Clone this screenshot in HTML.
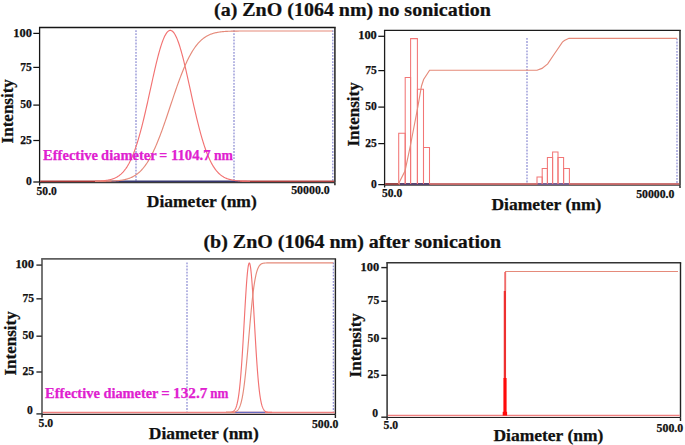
<!DOCTYPE html>
<html><head><meta charset="utf-8"><style>
html,body{margin:0;padding:0;background:#fff;}
body{width:685px;height:445px;overflow:hidden;}
svg{display:block;font-family:"Liberation Serif", serif;font-weight:bold;}
text{stroke-width:0.25px;}
</style></head><body>
<svg width="685" height="445" viewBox="0 0 685 445">
<rect width="685" height="445" fill="#fff"/>
<text transform="translate(214,15.9) scale(1,0.945)" font-size="20" fill="#111" stroke="#111">(a) ZnO (1064 nm) no sonication</text>
<text transform="translate(203.4,247.6) scale(1,0.945)" font-size="20" fill="#111" stroke="#111">(b) ZnO (1064 nm) after sonication</text>
<line x1="38.95" y1="27.5" x2="335.7" y2="27.5" stroke="#161616" stroke-width="1.3" />
<line x1="39.6" y1="27.5" x2="39.6" y2="182.6" stroke="#161616" stroke-width="1.3" />
<line x1="334.9" y1="27.5" x2="334.9" y2="182.6" stroke="#2e2e2e" stroke-width="1.6" />
<line x1="39.6" y1="182.6" x2="334.9" y2="182.6" stroke="#3a3a3a" stroke-width="1.1" />
<line x1="39.6" y1="182.6" x2="39.6" y2="185.6" stroke="#161616" stroke-width="1.3" />
<line x1="334.9" y1="182.6" x2="334.9" y2="185.2" stroke="#2e2e2e" stroke-width="1.6" />
<line x1="33.300000000000004" y1="33.4" x2="39.6" y2="33.4" stroke="#111" stroke-width="1.25" />
<text x="31.9" y="36.5" font-size="11.6" text-anchor="end" fill="#111" stroke="#111" textLength="18.6" lengthAdjust="spacingAndGlyphs">100</text>
<line x1="33.300000000000004" y1="67.4" x2="39.6" y2="67.4" stroke="#111" stroke-width="1.25" />
<text x="31.9" y="70.5" font-size="11.6" text-anchor="end" fill="#111" stroke="#111" >75</text>
<line x1="33.300000000000004" y1="105.1" x2="39.6" y2="105.1" stroke="#111" stroke-width="1.25" />
<text x="31.9" y="108.2" font-size="11.6" text-anchor="end" fill="#111" stroke="#111" >50</text>
<line x1="33.300000000000004" y1="140.5" x2="39.6" y2="140.5" stroke="#111" stroke-width="1.25" />
<text x="31.9" y="143.6" font-size="11.6" text-anchor="end" fill="#111" stroke="#111" >25</text>
<line x1="33.300000000000004" y1="182.0" x2="39.6" y2="182.0" stroke="#111" stroke-width="1.25" />
<text x="31.9" y="185.1" font-size="11.6" text-anchor="end" fill="#111" stroke="#111" >0</text>
<line x1="136" y1="30.2" x2="136" y2="181.3" stroke="#9494d6" stroke-width="1.35" stroke-dasharray="1.8 1.3"/>
<line x1="234" y1="30.2" x2="234" y2="181.3" stroke="#9494d6" stroke-width="1.35" stroke-dasharray="1.8 1.3"/>
<line x1="332.8" y1="30.2" x2="332.8" y2="181.3" stroke="#9494d6" stroke-width="1.35" stroke-dasharray="1.8 1.3"/>
<line x1="40.2" y1="181.3" x2="100" y2="181.3" stroke="#a83434" stroke-width="1.5" />
<line x1="100" y1="181.3" x2="106" y2="181.3" stroke="#cc4040" stroke-width="1.5" />
<line x1="106" y1="181.3" x2="112" y2="181.3" stroke="#703048" stroke-width="1.5" />
<line x1="112" y1="181.3" x2="240" y2="181.3" stroke="#363670" stroke-width="1.5" />
<line x1="240" y1="181.3" x2="334.09999999999997" y2="181.3" stroke="#b04040" stroke-width="1.5" />
<path d="M95.00,181.17 L95.50,181.16 L96.00,181.15 L96.50,181.13 L97.00,181.12 L97.50,181.10 L98.00,181.08 L98.50,181.06 L99.00,181.04 L99.50,181.01 L100.00,180.99 L100.50,180.96 L101.00,180.93 L101.50,180.89 L102.00,180.86 L102.50,180.82 L103.00,180.78 L103.50,180.73 L104.00,180.68 L104.50,180.63 L105.00,180.57 L105.50,180.51 L106.00,180.44 L106.50,180.37 L107.00,180.29 L107.50,180.21 L108.00,180.12 L108.50,180.03 L109.00,179.92 L109.50,179.81 L110.00,179.70 L110.50,179.57 L111.00,179.44 L111.50,179.30 L112.00,179.14 L112.50,178.98 L113.00,178.81 L113.50,178.63 L114.00,178.43 L114.50,178.22 L115.00,178.00 L115.50,177.76 L116.00,177.52 L116.50,177.25 L117.00,176.97 L117.50,176.67 L118.00,176.36 L118.50,176.03 L119.00,175.68 L119.50,175.31 L120.00,174.91 L120.50,174.50 L121.00,174.07 L121.50,173.61 L122.00,173.13 L122.50,172.62 L123.00,172.09 L123.50,171.53 L124.00,170.95 L124.50,170.34 L125.00,169.69 L125.50,169.02 L126.00,168.32 L126.50,167.58 L127.00,166.82 L127.50,166.02 L128.00,165.18 L128.50,164.31 L129.00,163.41 L129.50,162.46 L130.00,161.48 L130.50,160.47 L131.00,159.41 L131.50,158.32 L132.00,157.18 L132.50,156.01 L133.00,154.79 L133.50,153.53 L134.00,152.24 L134.50,150.90 L135.00,149.51 L135.50,148.09 L136.00,146.63 L136.50,145.12 L137.00,143.57 L137.50,141.98 L138.00,140.34 L138.50,138.67 L139.00,136.95 L139.50,135.20 L140.00,133.41 L140.50,131.57 L141.00,129.70 L141.50,127.79 L142.00,125.85 L142.50,123.87 L143.00,121.86 L143.50,119.81 L144.00,117.74 L144.50,115.63 L145.00,113.50 L145.50,111.35 L146.00,109.17 L146.50,106.97 L147.00,104.75 L147.50,102.51 L148.00,100.25 L148.50,97.99 L149.00,95.72 L149.50,93.43 L150.00,91.15 L150.50,88.86 L151.00,86.57 L151.50,84.29 L152.00,82.01 L152.50,79.75 L153.00,77.50 L153.50,75.26 L154.00,73.04 L154.50,70.85 L155.00,68.68 L155.50,66.54 L156.00,64.44 L156.50,62.37 L157.00,60.33 L157.50,58.35 L158.00,56.40 L158.50,54.51 L159.00,52.66 L159.50,50.87 L160.00,49.14 L160.50,47.47 L161.00,45.86 L161.50,44.32 L162.00,42.85 L162.50,41.45 L163.00,40.12 L163.50,38.87 L164.00,37.70 L164.50,36.61 L165.00,35.61 L165.50,34.68 L166.00,33.85 L166.50,33.10 L167.00,32.44 L167.50,31.87 L168.00,31.39 L168.50,31.01 L169.00,30.72 L169.50,30.52 L170.00,30.42 L170.50,30.41 L171.00,30.49 L171.50,30.67 L172.00,30.94 L172.50,31.31 L173.00,31.77 L173.50,32.32 L174.00,32.96 L174.50,33.69 L175.00,34.51 L175.50,35.42 L176.00,36.41 L176.50,37.48 L177.00,38.63 L177.50,39.87 L178.00,41.18 L178.50,42.56 L179.00,44.02 L179.50,45.55 L180.00,47.14 L180.50,48.80 L181.00,50.52 L181.50,52.30 L182.00,54.13 L182.50,56.02 L183.00,57.95 L183.50,59.93 L184.00,61.96 L184.50,64.02 L185.00,66.12 L185.50,68.25 L186.00,70.41 L186.50,72.60 L187.00,74.81 L187.50,77.05 L188.00,79.30 L188.50,81.56 L189.00,83.83 L189.50,86.12 L190.00,88.40 L190.50,90.69 L191.00,92.98 L191.50,95.26 L192.00,97.54 L192.50,99.80 L193.00,102.06 L193.50,104.30 L194.00,106.52 L194.50,108.73 L195.00,110.91 L195.50,113.07 L196.00,115.21 L196.50,117.32 L197.00,119.40 L197.50,121.45 L198.00,123.47 L198.50,125.46 L199.00,127.41 L199.50,129.32 L200.00,131.20 L200.50,133.04 L201.00,134.84 L201.50,136.61 L202.00,138.33 L202.50,140.01 L203.00,141.65 L203.50,143.25 L204.00,144.81 L204.50,146.33 L205.00,147.80 L205.50,149.23 L206.00,150.62 L206.50,151.97 L207.00,153.28 L207.50,154.54 L208.00,155.77 L208.50,156.95 L209.00,158.09 L209.50,159.19 L210.00,160.26 L210.50,161.28 L211.00,162.27 L211.50,163.22 L212.00,164.13 L212.50,165.01 L213.00,165.85 L213.50,166.66 L214.00,167.43 L214.50,168.17 L215.00,168.88 L215.50,169.56 L216.00,170.21 L216.50,170.83 L217.00,171.42 L217.50,171.98 L218.00,172.52 L218.50,173.03 L219.00,173.52 L219.50,173.98 L220.00,174.42 L220.50,174.83 L221.00,175.23 L221.50,175.60 L222.00,175.96 L222.50,176.29 L223.00,176.61 L223.50,176.91 L224.00,177.20 L224.50,177.46 L225.00,177.72 L225.50,177.95 L226.00,178.18 L226.50,178.39 L227.00,178.59 L227.50,178.77 L228.00,178.95 L228.50,179.11 L229.00,179.27 L229.50,179.41 L230.00,179.55 L230.50,179.67 L231.00,179.79 L231.50,179.90 L232.00,180.01 L232.50,180.10 L233.00,180.19 L233.50,180.28 L234.00,180.35 L234.50,180.43 L235.00,180.49 L235.50,180.56 L236.00,180.62 L236.50,180.67 L237.00,180.72 L237.50,180.77 L238.00,180.81 L238.50,180.85 L239.00,180.89 L239.50,180.92 L240.00,180.95 L240.50,180.98 L241.00,181.01 L241.50,181.03 L242.00,181.06 L242.50,181.08 L243.00,181.10 L243.50,181.11 L244.00,181.13 L244.50,181.15 L245.00,181.16 L245.50,181.17 L246.00,181.18 L246.50,181.19 L247.00,181.20 L247.50,181.21 L248.00,181.22 L248.50,181.23 L249.00,181.23 L249.50,181.24 L250.00,181.25" fill="none" stroke="#f27272" stroke-width="1.15"/>
<path d="M95.00,181.29 L95.50,181.29 L96.00,181.28 L96.50,181.28 L97.00,181.28 L97.50,181.28 L98.00,181.28 L98.50,181.28 L99.00,181.27 L99.50,181.27 L100.00,181.27 L100.50,181.26 L101.00,181.26 L101.50,181.26 L102.00,181.25 L102.50,181.25 L103.00,181.24 L103.50,181.24 L104.00,181.23 L104.50,181.22 L105.00,181.22 L105.50,181.21 L106.00,181.20 L106.50,181.19 L107.00,181.18 L107.50,181.17 L108.00,181.16 L108.50,181.15 L109.00,181.14 L109.50,181.12 L110.00,181.11 L110.50,181.09 L111.00,181.07 L111.50,181.05 L112.00,181.03 L112.50,181.01 L113.00,180.99 L113.50,180.96 L114.00,180.93 L114.50,180.90 L115.00,180.87 L115.50,180.84 L116.00,180.80 L116.50,180.76 L117.00,180.72 L117.50,180.68 L118.00,180.63 L118.50,180.58 L119.00,180.52 L119.50,180.47 L120.00,180.41 L120.50,180.34 L121.00,180.27 L121.50,180.20 L122.00,180.12 L122.50,180.03 L123.00,179.95 L123.50,179.85 L124.00,179.75 L124.50,179.65 L125.00,179.53 L125.50,179.41 L126.00,179.29 L126.50,179.16 L127.00,179.02 L127.50,178.87 L128.00,178.71 L128.50,178.55 L129.00,178.37 L129.50,178.19 L130.00,178.00 L130.50,177.80 L131.00,177.59 L131.50,177.36 L132.00,177.13 L132.50,176.88 L133.00,176.63 L133.50,176.36 L134.00,176.08 L134.50,175.78 L135.00,175.47 L135.50,175.15 L136.00,174.81 L136.50,174.46 L137.00,174.09 L137.50,173.71 L138.00,173.31 L138.50,172.90 L139.00,172.46 L139.50,172.01 L140.00,171.55 L140.50,171.06 L141.00,170.56 L141.50,170.04 L142.00,169.50 L142.50,168.94 L143.00,168.36 L143.50,167.75 L144.00,167.13 L144.50,166.49 L145.00,165.83 L145.50,165.14 L146.00,164.44 L146.50,163.71 L147.00,162.96 L147.50,162.19 L148.00,161.40 L148.50,160.58 L149.00,159.74 L149.50,158.88 L150.00,158.00 L150.50,157.09 L151.00,156.16 L151.50,155.21 L152.00,154.23 L152.50,153.23 L153.00,152.21 L153.50,151.17 L154.00,150.11 L154.50,149.02 L155.00,147.91 L155.50,146.78 L156.00,145.63 L156.50,144.46 L157.00,143.27 L157.50,142.06 L158.00,140.83 L158.50,139.58 L159.00,138.31 L159.50,137.02 L160.00,135.72 L160.50,134.40 L161.00,133.06 L161.50,131.71 L162.00,130.34 L162.50,128.96 L163.00,127.56 L163.50,126.15 L164.00,124.73 L164.50,123.30 L165.00,121.86 L165.50,120.40 L166.00,118.94 L166.50,117.47 L167.00,116.00 L167.50,114.52 L168.00,113.03 L168.50,111.54 L169.00,110.04 L169.50,108.55 L170.00,107.05 L170.50,105.55 L171.00,104.05 L171.50,102.55 L172.00,101.06 L172.50,99.57 L173.00,98.08 L173.50,96.60 L174.00,95.12 L174.50,93.65 L175.00,92.19 L175.50,90.73 L176.00,89.29 L176.50,87.86 L177.00,86.43 L177.50,85.02 L178.00,83.62 L178.50,82.24 L179.00,80.87 L179.50,79.51 L180.00,78.17 L180.50,76.85 L181.00,75.54 L181.50,74.25 L182.00,72.97 L182.50,71.72 L183.00,70.49 L183.50,69.27 L184.00,68.07 L184.50,66.90 L185.00,65.74 L185.50,64.61 L186.00,63.50 L186.50,62.41 L187.00,61.34 L187.50,60.29 L188.00,59.27 L188.50,58.27 L189.00,57.29 L189.50,56.33 L190.00,55.40 L190.50,54.48 L191.00,53.60 L191.50,52.73 L192.00,51.89 L192.50,51.06 L193.00,50.27 L193.50,49.49 L194.00,48.74 L194.50,48.00 L195.00,47.29 L195.50,46.61 L196.00,45.94 L196.50,45.29 L197.00,44.67 L197.50,44.06 L198.00,43.48 L198.50,42.91 L199.00,42.37 L199.50,41.84 L200.00,41.34 L200.50,40.85 L201.00,40.38 L201.50,39.92 L202.00,39.49 L202.50,39.07 L203.00,38.67 L203.50,38.28 L204.00,37.91 L204.50,37.56 L205.00,37.22 L205.50,36.89 L206.00,36.58 L206.50,36.28 L207.00,36.00 L207.50,35.73 L208.00,35.47 L208.50,35.22 L209.00,34.98 L209.50,34.76 L210.00,34.54 L210.50,34.34 L211.00,34.15 L211.50,33.96 L212.00,33.79 L212.50,33.62 L213.00,33.46 L213.50,33.31 L214.00,33.17 L214.50,33.04 L215.00,32.91 L215.50,32.79 L216.00,32.68 L216.50,32.57 L217.00,32.47 L217.50,32.37 L218.00,32.28 L218.50,32.20 L219.00,32.12 L219.50,32.04 L220.00,31.97 L220.50,31.91 L221.00,31.85 L221.50,31.79 L222.00,31.73 L222.50,31.68 L223.00,31.63 L223.50,31.59 L224.00,31.55 L224.50,31.51 L225.00,31.47 L225.50,31.43 L226.00,31.40 L226.50,31.37 L227.00,31.34 L227.50,31.32 L228.00,31.29 L228.50,31.27 L229.00,31.25 L229.50,31.23 L230.00,31.21 L230.50,31.20 L231.00,31.18 L231.50,31.17 L232.00,31.15 L232.50,31.14 L233.00,31.13 L233.50,31.12 L234.00,31.11 L234.50,31.10 L235.00,31.09 L235.50,31.08 L236.00,31.08 L236.50,31.07 L237.00,31.06 L237.50,31.06 L238.00,31.05 L238.50,31.05 L239.00,31.04 L239.50,31.04 L240.00,31.04 L240.50,31.03 L241.00,31.03 L241.50,31.03 L242.00,31.03 L242.50,31.02 L243.00,31.02 L243.50,31.02 L244.00,31.02 L244.50,31.02 L245.00,31.01 L245.50,31.01 L246.00,31.01 L246.50,31.01 L247.00,31.01 L247.50,31.01 L248.00,31.01 L248.50,31.01 L249.00,31.01 L249.50,31.01 L250.00,31.01 L250.50,31.00 L251.00,31.00 L251.50,31.00 L252.00,31.00 L252.50,31.00 L253.00,31.00 L253.50,31.00 L254.00,31.00 L254.50,31.00 L255.00,31.00 L255.50,31.00 L256.00,31.00 L256.50,31.00 L257.00,31.00 L257.50,31.00 L258.00,31.00 L258.50,31.00 L259.00,31.00 L259.50,31.00 L260.00,31.00 L260.50,31.00 L261.00,31.00 L261.50,31.00 L262.00,31.00 L262.50,31.00 L263.00,31.00 L263.50,31.00 L264.00,31.00 L264.50,31.00 L265.00,31.00 L265.50,31.00 L266.00,31.00 L266.50,31.00 L267.00,31.00 L267.50,31.00 L268.00,31.00 L268.50,31.00 L269.00,31.00 L269.50,31.00 L270.00,31.00 L270.50,31.00 L271.00,31.00 L271.50,31.00 L272.00,31.00 L272.50,31.00 L273.00,31.00 L273.50,31.00 L274.00,31.00 L274.50,31.00 L275.00,31.00 L275.50,31.00 L276.00,31.00 L276.50,31.00 L277.00,31.00 L277.50,31.00 L278.00,31.00 L278.50,31.00 L279.00,31.00 L279.50,31.00 L280.00,31.00 L280.50,31.00 L281.00,31.00 L281.50,31.00 L282.00,31.00 L282.50,31.00 L283.00,31.00 L283.50,31.00 L284.00,31.00 L284.50,31.00 L285.00,31.00 L285.50,31.00 L286.00,31.00 L286.50,31.00 L287.00,31.00 L287.50,31.00 L288.00,31.00 L288.50,31.00 L289.00,31.00 L289.50,31.00 L290.00,31.00 L290.50,31.00 L291.00,31.00 L291.50,31.00 L292.00,31.00 L292.50,31.00 L293.00,31.00 L293.50,31.00 L294.00,31.00 L294.50,31.00 L295.00,31.00 L295.50,31.00 L296.00,31.00 L296.50,31.00 L297.00,31.00 L297.50,31.00 L298.00,31.00 L298.50,31.00 L299.00,31.00 L299.50,31.00 L300.00,31.00 L300.50,31.00 L301.00,31.00 L301.50,31.00 L302.00,31.00 L302.50,31.00 L303.00,31.00 L303.50,31.00 L304.00,31.00 L304.50,31.00 L305.00,31.00 L305.50,31.00 L306.00,31.00 L306.50,31.00 L307.00,31.00 L307.50,31.00 L308.00,31.00 L308.50,31.00 L309.00,31.00 L309.50,31.00 L310.00,31.00 L310.50,31.00 L311.00,31.00 L311.50,31.00 L312.00,31.00 L312.50,31.00 L313.00,31.00 L313.50,31.00 L314.00,31.00 L314.50,31.00 L315.00,31.00 L315.50,31.00 L316.00,31.00 L316.50,31.00 L317.00,31.00 L317.50,31.00 L318.00,31.00 L318.50,31.00 L319.00,31.00 L319.50,31.00 L320.00,31.00 L320.50,31.00 L321.00,31.00 L321.50,31.00 L322.00,31.00 L322.50,31.00 L323.00,31.00 L323.50,31.00 L324.00,31.00 L324.50,31.00 L325.00,31.00 L325.50,31.00 L326.00,31.00 L326.50,31.00 L327.00,31.00 L327.50,31.00 L328.00,31.00 L328.50,31.00 L329.00,31.00 L329.50,31.00 L330.00,31.00 L330.50,31.00 L331.00,31.00 L331.50,31.00 L332.00,31.00 L332.50,31.00" fill="none" stroke="#e58a7a" stroke-width="1.15"/>
<text x="36.6" y="195.4" font-size="11.6" text-anchor="start" fill="#111" stroke="#111" textLength="20.2" lengthAdjust="spacingAndGlyphs">50.0</text>
<text x="291.2" y="194.3" font-size="11.6" text-anchor="start" fill="#111" stroke="#111" textLength="38.6" lengthAdjust="spacingAndGlyphs">50000.0</text>
<text x="146.8" y="206.8" font-size="17.5" text-anchor="start" fill="#111" stroke="#111" >Diameter (nm)</text>
<text transform="translate(13.2,143.4) rotate(-90)" font-size="17" fill="#111" stroke="#111">Intensity</text>
<text x="43.10" y="160.4" font-size="15" fill="#e020d0" stroke="#e020d0" textLength="54.80" lengthAdjust="spacingAndGlyphs">Effective</text>
<text x="101.10" y="160.4" font-size="15" fill="#e020d0" stroke="#e020d0" textLength="55.60" lengthAdjust="spacingAndGlyphs">diameter</text>
<text x="159.20" y="160.4" font-size="15" fill="#e020d0" stroke="#e020d0" textLength="8.00" lengthAdjust="spacingAndGlyphs">=</text>
<text x="170.90" y="160.4" font-size="15" fill="#e020d0" stroke="#e020d0" textLength="39.80" lengthAdjust="spacingAndGlyphs">1104.7</text>
<text x="213.90" y="160.4" font-size="15" fill="#e020d0" stroke="#e020d0" textLength="19.00" lengthAdjust="spacingAndGlyphs">nm</text>
<line x1="383.95000000000005" y1="30.3" x2="680.75" y2="30.3" stroke="#1c1c1c" stroke-width="1.3" />
<line x1="384.6" y1="30.3" x2="384.6" y2="185.2" stroke="#1c1c1c" stroke-width="1.3" />
<line x1="680.0" y1="30.3" x2="680.0" y2="185.2" stroke="#2a2a2a" stroke-width="1.5" />
<line x1="384.6" y1="185.2" x2="680.0" y2="185.2" stroke="#3a3a3a" stroke-width="1.1" />
<line x1="384.6" y1="185.2" x2="384.6" y2="187.5" stroke="#1c1c1c" stroke-width="1.3" />
<line x1="680.0" y1="185.2" x2="680.0" y2="188" stroke="#2a2a2a" stroke-width="1.5" />
<line x1="378.3" y1="36.3" x2="384.6" y2="36.3" stroke="#111" stroke-width="1.25" />
<text x="376.8" y="39.4" font-size="11.6" text-anchor="end" fill="#111" stroke="#111" textLength="18.6" lengthAdjust="spacingAndGlyphs">100</text>
<line x1="378.3" y1="70.6" x2="384.6" y2="70.6" stroke="#111" stroke-width="1.25" />
<text x="376.8" y="73.7" font-size="11.6" text-anchor="end" fill="#111" stroke="#111" >75</text>
<line x1="378.3" y1="107.1" x2="384.6" y2="107.1" stroke="#111" stroke-width="1.25" />
<text x="376.8" y="110.2" font-size="11.6" text-anchor="end" fill="#111" stroke="#111" >50</text>
<line x1="378.3" y1="143.6" x2="384.6" y2="143.6" stroke="#111" stroke-width="1.25" />
<text x="376.8" y="146.7" font-size="11.6" text-anchor="end" fill="#111" stroke="#111" >25</text>
<line x1="378.3" y1="184.6" x2="384.6" y2="184.6" stroke="#111" stroke-width="1.25" />
<text x="376.8" y="187.7" font-size="11.6" text-anchor="end" fill="#111" stroke="#111" >0</text>
<line x1="527" y1="38" x2="527" y2="183.5" stroke="#9494d6" stroke-width="1.35" stroke-dasharray="1.8 1.3"/>
<line x1="677" y1="38.5" x2="677" y2="183.5" stroke="#9494d6" stroke-width="1.35" stroke-dasharray="1.8 1.3"/>
<line x1="385.20000000000005" y1="184.0" x2="679.3" y2="184.0" stroke="#bb4646" stroke-width="1.5" />
<line x1="385.20000000000005" y1="184.0" x2="399" y2="184.0" stroke="#8a3838" stroke-width="1.5" />
<line x1="400" y1="184.0" x2="429.5" y2="184.0" stroke="#363670" stroke-width="1.5" />
<line x1="537.5" y1="184.0" x2="569" y2="184.0" stroke="#5a5aa0" stroke-width="1.4" />
<path d="M398.7,184.0 L398.7,133.2 L405.2,133.2 L405.2,184.0" fill="none" stroke="#f27676" stroke-width="1.05"/>
<path d="M405.2,184.0 L405.2,77.5 L410.6,77.5 L410.6,184.0" fill="none" stroke="#f27676" stroke-width="1.05"/>
<path d="M410.6,184.0 L410.6,38.6 L417.4,38.6 L417.4,184.0" fill="none" stroke="#f27676" stroke-width="1.05"/>
<path d="M417.4,184.0 L417.4,89.3 L423.5,89.3 L423.5,184.0" fill="none" stroke="#f27676" stroke-width="1.05"/>
<path d="M423.5,184.0 L423.5,147.5 L429.5,147.5 L429.5,184.0" fill="none" stroke="#f27676" stroke-width="1.05"/>
<path d="M537,184.0 L537,177 L542.2,177 L542.2,184.0" fill="none" stroke="#f27676" stroke-width="1.05"/>
<path d="M542.2,184.0 L542.2,168.4 L547.4,168.4 L547.4,184.0" fill="none" stroke="#f27676" stroke-width="1.05"/>
<path d="M547.4,184.0 L547.4,157.4 L552.6,157.4 L552.6,184.0" fill="none" stroke="#f27676" stroke-width="1.05"/>
<path d="M552.6,184.0 L552.6,152 L558,152 L558,184.0" fill="none" stroke="#f27676" stroke-width="1.05"/>
<path d="M558,184.0 L558,157.4 L563.6,157.4 L563.6,184.0" fill="none" stroke="#f27676" stroke-width="1.05"/>
<path d="M563.6,184.0 L563.6,168.4 L569.4,168.4 L569.4,184.0" fill="none" stroke="#f27676" stroke-width="1.05"/>
<path d="M398.4,184.0 L405,171 L410.5,145 L418,106 L421.5,86 L423.6,79.5 L429.6,70.2 L537,70.2 L542,68.4 L547.7,63.9 L553.8,54.8 L562.4,42.1 L564.4,40.6 L569,38.3 L677,38.3" fill="none" stroke="#e58a7a" stroke-width="1.15"/>
<text x="382" y="196.6" font-size="11.6" text-anchor="start" fill="#111" stroke="#111" textLength="20.2" lengthAdjust="spacingAndGlyphs">50.0</text>
<text x="636.2" y="197.6" font-size="11.6" text-anchor="start" fill="#111" stroke="#111" textLength="38.2" lengthAdjust="spacingAndGlyphs">50000.0</text>
<text x="491.4" y="210.2" font-size="17.5" text-anchor="start" fill="#111" stroke="#111" >Diameter (nm)</text>
<text transform="translate(358.6,146.6) rotate(-90)" font-size="17" fill="#111" stroke="#111">Intensity</text>
<line x1="41.15" y1="258.9" x2="336.09999999999997" y2="258.9" stroke="#5e5e5e" stroke-width="1.7" />
<line x1="42.0" y1="258.9" x2="42.0" y2="414.3" stroke="#5e5e5e" stroke-width="1.7" />
<line x1="335.4" y1="258.9" x2="335.4" y2="414.3" stroke="#222" stroke-width="1.4" />
<line x1="42.0" y1="414.3" x2="335.4" y2="414.3" stroke="#222" stroke-width="1.2" />
<line x1="42.0" y1="414.3" x2="42.0" y2="417.5" stroke="#333" stroke-width="1.5" />
<line x1="335.4" y1="414.3" x2="335.4" y2="418" stroke="#222" stroke-width="1.4" />
<line x1="36.4" y1="265.1" x2="42.0" y2="265.1" stroke="#3a3a3a" stroke-width="1.5" />
<text x="34.0" y="268.2" font-size="11.6" text-anchor="end" fill="#111" stroke="#111" textLength="18.6" lengthAdjust="spacingAndGlyphs">100</text>
<line x1="36.4" y1="298.8" x2="42.0" y2="298.8" stroke="#3a3a3a" stroke-width="1.5" />
<text x="34.0" y="301.9" font-size="11.6" text-anchor="end" fill="#111" stroke="#111" >75</text>
<line x1="36.4" y1="336.2" x2="42.0" y2="336.2" stroke="#3a3a3a" stroke-width="1.5" />
<text x="34.0" y="339.3" font-size="11.6" text-anchor="end" fill="#111" stroke="#111" >50</text>
<line x1="36.4" y1="372.0" x2="42.0" y2="372.0" stroke="#3a3a3a" stroke-width="1.5" />
<text x="34.0" y="375.1" font-size="11.6" text-anchor="end" fill="#111" stroke="#111" >25</text>
<line x1="36.4" y1="413.9" x2="42.0" y2="413.9" stroke="#3a3a3a" stroke-width="1.5" />
<text x="32.8" y="414.05" font-size="11.6" text-anchor="end" fill="#111" stroke="#111" >0</text>
<line x1="187" y1="262.4" x2="187" y2="411.79999999999995" stroke="#9494d6" stroke-width="1.35" stroke-dasharray="1.8 1.3"/>
<line x1="333.4" y1="262.4" x2="333.4" y2="411.79999999999995" stroke="#9494d6" stroke-width="1.35" stroke-dasharray="1.8 1.3"/>
<line x1="42.9" y1="412.4" x2="334.7" y2="412.4" stroke="#f08080" stroke-width="1.5" />
<line x1="235" y1="412.4" x2="265" y2="412.4" stroke="#6a6ac0" stroke-width="1.3" />
<path d="M226.00,412.40 L226.25,412.39 L226.50,412.39 L226.75,412.39 L227.00,412.39 L227.25,412.39 L227.50,412.38 L227.75,412.38 L228.00,412.38 L228.25,412.37 L228.50,412.36 L228.75,412.36 L229.00,412.35 L229.25,412.33 L229.50,412.32 L229.75,412.30 L230.00,412.28 L230.25,412.26 L230.50,412.23 L230.75,412.20 L231.00,412.16 L231.25,412.12 L231.50,412.06 L231.75,412.00 L232.00,411.93 L232.25,411.84 L232.50,411.74 L232.75,411.63 L233.00,411.50 L233.25,411.34 L233.50,411.17 L233.75,410.97 L234.00,410.74 L234.25,410.48 L234.50,410.18 L234.75,409.85 L235.00,409.47 L235.25,409.04 L235.50,408.56 L235.75,408.02 L236.00,407.42 L236.25,406.74 L236.50,406.00 L236.75,405.17 L237.00,404.25 L237.25,403.24 L237.50,402.12 L237.75,400.90 L238.00,399.57 L238.25,398.11 L238.50,396.53 L238.75,394.82 L239.00,392.96 L239.25,390.97 L239.50,388.82 L239.75,386.52 L240.00,384.07 L240.25,381.46 L240.50,378.68 L240.75,375.75 L241.00,372.66 L241.25,369.41 L241.50,366.01 L241.75,362.46 L242.00,358.76 L242.25,354.93 L242.50,350.98 L242.75,346.91 L243.00,342.74 L243.25,338.48 L243.50,334.15 L243.75,329.76 L244.00,325.34 L244.25,320.90 L244.50,316.46 L244.75,312.05 L245.00,307.69 L245.25,303.40 L245.50,299.21 L245.75,295.14 L246.00,291.22 L246.25,287.46 L246.50,283.90 L246.75,280.55 L247.00,277.45 L247.25,274.59 L247.50,272.02 L247.75,269.74 L248.00,267.78 L248.25,266.13 L248.50,264.83 L248.75,263.87 L249.00,263.26 L249.25,263.01 L249.50,263.11 L249.75,263.58 L250.00,264.40 L250.25,265.57 L250.50,267.08 L250.75,268.92 L251.00,271.07 L251.25,273.53 L251.50,276.27 L251.75,279.28 L252.00,282.54 L252.25,286.01 L252.50,289.70 L252.75,293.55 L253.00,297.57 L253.25,301.71 L253.50,305.97 L253.75,310.30 L254.00,314.69 L254.25,319.12 L254.50,323.56 L254.75,327.99 L255.00,332.40 L255.25,336.75 L255.50,341.04 L255.75,345.25 L256.00,349.37 L256.25,353.37 L256.50,357.25 L256.75,361.00 L257.00,364.61 L257.25,368.07 L257.50,371.38 L257.75,374.53 L258.00,377.53 L258.25,380.37 L258.50,383.04 L258.75,385.56 L259.00,387.92 L259.25,390.12 L259.50,392.18 L259.75,394.09 L260.00,395.86 L260.25,397.50 L260.50,399.00 L260.75,400.38 L261.00,401.65 L261.25,402.80 L261.50,403.85 L261.75,404.81 L262.00,405.67 L262.25,406.45 L262.50,407.16 L262.75,407.79 L263.00,408.35 L263.25,408.85 L263.50,409.30 L263.75,409.70 L264.00,410.05 L264.25,410.37 L264.50,410.64 L264.75,410.88 L265.00,411.09 L265.25,411.28 L265.50,411.44 L265.75,411.58 L266.00,411.70 L266.25,411.80 L266.50,411.89 L266.75,411.97 L267.00,412.04 L267.25,412.09 L267.50,412.14 L267.75,412.18 L268.00,412.22 L268.25,412.25 L268.50,412.28 L268.75,412.30 L269.00,412.31 L269.25,412.33 L269.50,412.34 L269.75,412.35 L270.00,412.36 L270.25,412.37 L270.50,412.37 L270.75,412.38 L271.00,412.38 L271.25,412.39 L271.50,412.39 L271.75,412.39 L272.00,412.39" fill="none" stroke="#f27272" stroke-width="1.15"/>
<path d="M226.00,412.40 L226.25,412.40 L226.50,412.40 L226.75,412.40 L227.00,412.40 L227.25,412.40 L227.50,412.40 L227.75,412.40 L228.00,412.40 L228.25,412.40 L228.50,412.39 L228.75,412.39 L229.00,412.39 L229.25,412.39 L229.50,412.39 L229.75,412.39 L230.00,412.38 L230.25,412.38 L230.50,412.38 L230.75,412.37 L231.00,412.36 L231.25,412.36 L231.50,412.35 L231.75,412.34 L232.00,412.33 L232.25,412.31 L232.50,412.30 L232.75,412.28 L233.00,412.25 L233.25,412.23 L233.50,412.20 L233.75,412.16 L234.00,412.12 L234.25,412.08 L234.50,412.02 L234.75,411.96 L235.00,411.89 L235.25,411.81 L235.50,411.72 L235.75,411.61 L236.00,411.50 L236.25,411.36 L236.50,411.21 L236.75,411.04 L237.00,410.85 L237.25,410.64 L237.50,410.40 L237.75,410.14 L238.00,409.84 L238.25,409.52 L238.50,409.15 L238.75,408.75 L239.00,408.31 L239.25,407.83 L239.50,407.30 L239.75,406.72 L240.00,406.09 L240.25,405.40 L240.50,404.65 L240.75,403.84 L241.00,402.97 L241.25,402.03 L241.50,401.01 L241.75,399.93 L242.00,398.76 L242.25,397.52 L242.50,396.20 L242.75,394.80 L243.00,393.31 L243.25,391.73 L243.50,390.07 L243.75,388.32 L244.00,386.49 L244.25,384.57 L244.50,382.56 L244.75,380.47 L245.00,378.30 L245.25,376.04 L245.50,373.71 L245.75,371.30 L246.00,368.82 L246.25,366.27 L246.50,363.66 L246.75,360.99 L247.00,358.27 L247.25,355.50 L247.50,352.69 L247.75,349.84 L248.00,346.97 L248.25,344.07 L248.50,341.16 L248.75,338.23 L249.00,335.31 L249.25,332.39 L249.50,329.49 L249.75,326.60 L250.00,323.75 L250.25,320.92 L250.50,318.13 L250.75,315.39 L251.00,312.70 L251.25,310.06 L251.50,307.49 L251.75,304.98 L252.00,302.54 L252.25,300.18 L252.50,297.89 L252.75,295.69 L253.00,293.56 L253.25,291.52 L253.50,289.57 L253.75,287.70 L254.00,285.92 L254.25,284.22 L254.50,282.61 L254.75,281.09 L255.00,279.65 L255.25,278.30 L255.50,277.02 L255.75,275.83 L256.00,274.71 L256.25,273.67 L256.50,272.70 L256.75,271.80 L257.00,270.96 L257.25,270.19 L257.50,269.48 L257.75,268.83 L258.00,268.23 L258.25,267.68 L258.50,267.17 L258.75,266.72 L259.00,266.30 L259.25,265.92 L259.50,265.58 L259.75,265.28 L260.00,265.00 L260.25,264.75 L260.50,264.53 L260.75,264.33 L261.00,264.15 L261.25,263.99 L261.50,263.85 L261.75,263.73 L262.00,263.62 L262.25,263.52 L262.50,263.44 L262.75,263.37 L263.00,263.30 L263.25,263.24 L263.50,263.20 L263.75,263.15 L264.00,263.12 L264.25,263.08 L264.50,263.06 L264.75,263.03 L265.00,263.01 L265.25,262.99 L265.50,262.98 L265.75,262.97 L266.00,262.96 L266.25,262.95 L266.50,262.94 L266.75,262.93 L267.00,262.93 L267.25,262.92 L267.50,262.92 L267.75,262.92 L268.00,262.91 L268.25,262.91 L268.50,262.91 L268.75,262.91 L269.00,262.91 L269.25,262.90 L269.50,262.90 L269.75,262.90 L270.00,262.90 L270.25,262.90 L270.50,262.90 L270.75,262.90 L271.00,262.90 L271.25,262.90 L271.50,262.90 L271.75,262.90 L272.00,262.90 L272.25,262.90 L272.50,262.90 L272.75,262.90 L273.00,262.90 L273.25,262.90 L273.50,262.90 L273.75,262.90 L274.00,262.90 L274.25,262.90 L274.50,262.90 L274.75,262.90 L275.00,262.90 L275.25,262.90 L275.50,262.90 L275.75,262.90 L276.00,262.90 L276.25,262.90 L276.50,262.90 L276.75,262.90 L277.00,262.90 L277.25,262.90 L277.50,262.90 L277.75,262.90 L278.00,262.90 L278.25,262.90 L278.50,262.90 L278.75,262.90 L279.00,262.90 L279.25,262.90 L279.50,262.90 L279.75,262.90 L280.00,262.90 L280.25,262.90 L280.50,262.90 L280.75,262.90 L281.00,262.90 L281.25,262.90 L281.50,262.90 L281.75,262.90 L282.00,262.90 L282.25,262.90 L282.50,262.90 L282.75,262.90 L283.00,262.90 L283.25,262.90 L283.50,262.90 L283.75,262.90 L284.00,262.90 L284.25,262.90 L284.50,262.90 L284.75,262.90 L285.00,262.90 L285.25,262.90 L285.50,262.90 L285.75,262.90 L286.00,262.90 L286.25,262.90 L286.50,262.90 L286.75,262.90 L287.00,262.90 L287.25,262.90 L287.50,262.90 L287.75,262.90 L288.00,262.90 L288.25,262.90 L288.50,262.90 L288.75,262.90 L289.00,262.90 L289.25,262.90 L289.50,262.90 L289.75,262.90 L290.00,262.90 L290.25,262.90 L290.50,262.90 L290.75,262.90 L291.00,262.90 L291.25,262.90 L291.50,262.90 L291.75,262.90 L292.00,262.90 L292.25,262.90 L292.50,262.90 L292.75,262.90 L293.00,262.90 L293.25,262.90 L293.50,262.90 L293.75,262.90 L294.00,262.90 L294.25,262.90 L294.50,262.90 L294.75,262.90 L295.00,262.90 L295.25,262.90 L295.50,262.90 L295.75,262.90 L296.00,262.90 L296.25,262.90 L296.50,262.90 L296.75,262.90 L297.00,262.90 L297.25,262.90 L297.50,262.90 L297.75,262.90 L298.00,262.90 L298.25,262.90 L298.50,262.90 L298.75,262.90 L299.00,262.90 L299.25,262.90 L299.50,262.90 L299.75,262.90 L300.00,262.90 L300.25,262.90 L300.50,262.90 L300.75,262.90 L301.00,262.90 L301.25,262.90 L301.50,262.90 L301.75,262.90 L302.00,262.90 L302.25,262.90 L302.50,262.90 L302.75,262.90 L303.00,262.90 L303.25,262.90 L303.50,262.90 L303.75,262.90 L304.00,262.90 L304.25,262.90 L304.50,262.90 L304.75,262.90 L305.00,262.90 L305.25,262.90 L305.50,262.90 L305.75,262.90 L306.00,262.90 L306.25,262.90 L306.50,262.90 L306.75,262.90 L307.00,262.90 L307.25,262.90 L307.50,262.90 L307.75,262.90 L308.00,262.90 L308.25,262.90 L308.50,262.90 L308.75,262.90 L309.00,262.90 L309.25,262.90 L309.50,262.90 L309.75,262.90 L310.00,262.90 L310.25,262.90 L310.50,262.90 L310.75,262.90 L311.00,262.90 L311.25,262.90 L311.50,262.90 L311.75,262.90 L312.00,262.90 L312.25,262.90 L312.50,262.90 L312.75,262.90 L313.00,262.90 L313.25,262.90 L313.50,262.90 L313.75,262.90 L314.00,262.90 L314.25,262.90 L314.50,262.90 L314.75,262.90 L315.00,262.90 L315.25,262.90 L315.50,262.90 L315.75,262.90 L316.00,262.90 L316.25,262.90 L316.50,262.90 L316.75,262.90 L317.00,262.90 L317.25,262.90 L317.50,262.90 L317.75,262.90 L318.00,262.90 L318.25,262.90 L318.50,262.90 L318.75,262.90 L319.00,262.90 L319.25,262.90 L319.50,262.90 L319.75,262.90 L320.00,262.90 L320.25,262.90 L320.50,262.90 L320.75,262.90 L321.00,262.90 L321.25,262.90 L321.50,262.90 L321.75,262.90 L322.00,262.90 L322.25,262.90 L322.50,262.90 L322.75,262.90 L323.00,262.90 L323.25,262.90 L323.50,262.90 L323.75,262.90 L324.00,262.90 L324.25,262.90 L324.50,262.90 L324.75,262.90 L325.00,262.90 L325.25,262.90 L325.50,262.90 L325.75,262.90 L326.00,262.90 L326.25,262.90 L326.50,262.90 L326.75,262.90 L327.00,262.90 L327.25,262.90 L327.50,262.90 L327.75,262.90 L328.00,262.90 L328.25,262.90 L328.50,262.90 L328.75,262.90 L329.00,262.90 L329.25,262.90 L329.50,262.90 L329.75,262.90 L330.00,262.90 L330.25,262.90 L330.50,262.90 L330.75,262.90 L331.00,262.90 L331.25,262.90 L331.50,262.90 L331.75,262.90 L332.00,262.90 L332.25,262.90 L332.50,262.90 L332.75,262.90 L333.00,262.90 L333.25,262.90" fill="none" stroke="#e58a7a" stroke-width="1.15"/>
<text x="38.6" y="426.8" font-size="11.6" text-anchor="start" fill="#111" stroke="#111" textLength="14.6" lengthAdjust="spacingAndGlyphs">5.0</text>
<text x="312" y="428.2" font-size="11.6" text-anchor="start" fill="#111" stroke="#111" textLength="26.4" lengthAdjust="spacingAndGlyphs">500.0</text>
<text x="148.8" y="438.6" font-size="17.5" text-anchor="start" fill="#111" stroke="#111" >Diameter (nm)</text>
<text transform="translate(16.2,375.6) rotate(-90)" font-size="17" fill="#111" stroke="#111">Intensity</text>
<text x="45.10" y="397.9" font-size="15" fill="#e020d0" stroke="#e020d0" textLength="54.80" lengthAdjust="spacingAndGlyphs">Effective</text>
<text x="103.50" y="397.9" font-size="15" fill="#e020d0" stroke="#e020d0" textLength="54.90" lengthAdjust="spacingAndGlyphs">diameter</text>
<text x="161.30" y="397.9" font-size="15" fill="#e020d0" stroke="#e020d0" textLength="8.40" lengthAdjust="spacingAndGlyphs">=</text>
<text x="173.10" y="397.9" font-size="15" fill="#e020d0" stroke="#e020d0" textLength="34.20" lengthAdjust="spacingAndGlyphs">132.7</text>
<text x="210.20" y="397.9" font-size="15" fill="#e020d0" stroke="#e020d0" textLength="18.20" lengthAdjust="spacingAndGlyphs">nm</text>
<line x1="386.3" y1="262.8" x2="681.2" y2="262.8" stroke="#333" stroke-width="1.5" />
<line x1="387.1" y1="262.8" x2="387.1" y2="417.5" stroke="#3c3c3c" stroke-width="1.6" />
<line x1="680.5" y1="262.8" x2="680.5" y2="417.5" stroke="#222" stroke-width="1.4" />
<line x1="387.1" y1="417.5" x2="680.5" y2="417.5" stroke="#222" stroke-width="1.2" />
<line x1="387.1" y1="417.5" x2="387.1" y2="420" stroke="#333" stroke-width="1.5" />
<line x1="680.5" y1="417.5" x2="680.5" y2="421" stroke="#222" stroke-width="1.4" />
<line x1="381.3" y1="267.6" x2="387.1" y2="267.6" stroke="#222" stroke-width="1.4" />
<text x="379.2" y="270.7" font-size="11.6" text-anchor="end" fill="#111" stroke="#111" textLength="18.6" lengthAdjust="spacingAndGlyphs">100</text>
<line x1="381.3" y1="301.3" x2="387.1" y2="301.3" stroke="#222" stroke-width="1.4" />
<text x="379.2" y="304.4" font-size="11.6" text-anchor="end" fill="#111" stroke="#111" >75</text>
<line x1="381.3" y1="338.4" x2="387.1" y2="338.4" stroke="#222" stroke-width="1.4" />
<text x="379.2" y="341.5" font-size="11.6" text-anchor="end" fill="#111" stroke="#111" >50</text>
<line x1="381.3" y1="375.3" x2="387.1" y2="375.3" stroke="#222" stroke-width="1.4" />
<text x="379.2" y="378.4" font-size="11.6" text-anchor="end" fill="#111" stroke="#111" >25</text>
<line x1="381.3" y1="417.2" x2="387.1" y2="417.2" stroke="#222" stroke-width="1.4" />
<text x="378.0" y="417.15" font-size="11.6" text-anchor="end" fill="#111" stroke="#111" >0</text>
<line x1="387.90000000000003" y1="415.5" x2="679.8" y2="415.5" stroke="#f08080" stroke-width="1.5" />
<path d="M505.6,291 L505.6,271.5 L678,271.5" fill="none" stroke="#e58a7a" stroke-width="1.15"/>
<line x1="505.1" y1="272" x2="505.1" y2="291.5" stroke="#f06a6a" stroke-width="1.7" />
<line x1="504.9" y1="291" x2="504.9" y2="378.5" stroke="#ee3030" stroke-width="2.3" />
<line x1="505" y1="378" x2="505" y2="413" stroke="#ff0a0a" stroke-width="3.2" />
<rect x="502.7" y="411.8" width="4.4" height="3.8" fill="#ff0a0a"/>
<text x="383.6" y="429.2" font-size="11.6" text-anchor="start" fill="#111" stroke="#111" textLength="14.6" lengthAdjust="spacingAndGlyphs">5.0</text>
<text x="656.6" y="431.7" font-size="11.6" text-anchor="start" fill="#111" stroke="#111" textLength="26.6" lengthAdjust="spacingAndGlyphs">500.0</text>
<text x="493.4" y="441.2" font-size="17.5" text-anchor="start" fill="#111" stroke="#111" >Diameter (nm)</text>
<text transform="translate(361.2,377.4) rotate(-90)" font-size="17" fill="#111" stroke="#111">Intensity</text>
</svg>
</body></html>
